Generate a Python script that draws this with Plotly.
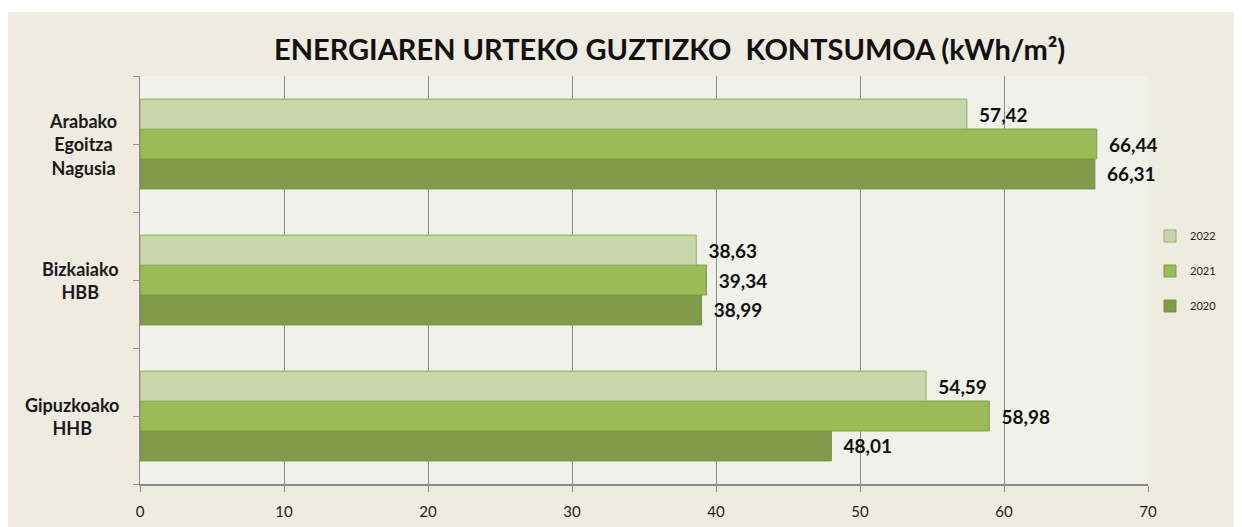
import plotly.graph_objects as go

categories = ["Gipuzkoako<br>HHB", "Bizkaiako<br>HBB", "Arabako<br>Egoitza<br>Nagusia"]
years = ["2020", "2021", "2022"]
values_2020 = [48.01, 38.99, 66.31]
values_2021 = [58.98, 39.34, 66.44]
values_2022 = [54.59, 38.63, 57.42]
x_ticks = [0, 10, 20, 30, 40, 50, 60, 70]
title_text = "ENERGIAREN URTEKO GUZTIZKO  KONTSUMOA (kWh/m²)"

series = {"2020": values_2020, "2021": values_2021, "2022": values_2022}
colors = {"2020": "#7F9A48", "2021": "#9BBB59", "2022": "#C7D6AB"}
borders = {"2020": "#75913F", "2021": "#7F9D3F", "2022": "#93AE62"}

FONT = "Lato"
fig = go.Figure()
for i, yr in enumerate(years):
    fig.add_trace(go.Bar(
        y=categories, x=series[yr], orientation="h", name=yr,
        legendgroup=yr, legendrank=len(years) - i,
        marker=dict(color=colors[yr], line=dict(color=borders[yr], width=1)),
        text=["\u00a0\u00a0" + f"{v:.2f}".replace(".", ",") for v in series[yr]],
        textposition="outside", cliponaxis=False,
        textfont=dict(family=FONT, size=19, color="#111111", weight="bold"),
    ))

fig.add_trace(go.Scatter(x=[None], y=[None], yaxis="y2", showlegend=False, hoverinfo="skip"))

# page body has an 8px margin: lay out in reference pixels minus 8
OFF = 8
W, H = 1242 - OFF, 527 - OFF
L, T = 140 - OFF, 76 - OFF
R, B = W - (1148 - OFF), H - (484 - OFF)
pw, ph = W - L - R, H - T - B


def px(xr):
    return (xr - OFF - L) / pw


def py(yr):
    return (H - B - (yr - OFF)) / ph


shapes = [
    dict(type="rect", xref="paper", yref="paper",
         x0=px(0), x1=px(1260), y0=py(540), y1=py(12),
         fillcolor="#EEEBE0", line=dict(width=0), layer="below"),
    dict(type="rect", xref="paper", yref="paper", x0=0, x1=1, y0=0, y1=1,
         fillcolor="#F0F2EA", line=dict(width=0), layer="below"),
]

annotations = [
    dict(text="<b>" + title_text + "</b>", xref="paper", yref="paper",
         x=px(669), y=py(48), xanchor="center", yanchor="middle",
         showarrow=False, font=dict(family=FONT, size=29, color="#111111")),
]
label_right = [121, 121, 119]
for cat, rx in zip(categories, label_right):
    annotations.append(dict(text="<b>" + cat + "</b>", xref="paper", yref="y",
                            x=px(rx), y=cat, xanchor="right", yanchor="middle",
                            align="center", showarrow=False,
                            font=dict(family=FONT, size=18, color="#1A1A1A")))

fig.update_layout(
    width=W, height=H,
    margin=dict(l=L, r=R, t=T, b=B, autoexpand=False),
    paper_bgcolor="white", plot_bgcolor="rgba(0,0,0,0)",
    barmode="group", bargap=0.34, bargroupgap=0,
    separators=",.",
    shapes=shapes, annotations=annotations,
    showlegend=True,
    legend=dict(x=px(1150), y=py(271), xanchor="left", yanchor="middle",
                traceorder="grouped", tracegroupgap=16, bgcolor="rgba(0,0,0,0)",
                font=dict(family=FONT, size=11, color="#222222"), itemwidth=30),
    xaxis=dict(range=[0, 70], tickvals=x_ticks, showgrid=True, gridcolor="#8C8C8C", gridwidth=1,
               zeroline=False, showline=True, linecolor="#8C8C8C", linewidth=2,
               ticks="outside", ticklen=6, tickcolor="#8C8C8C", automargin=False,
               ticklabelstandoff=7,
               tickfont=dict(family=FONT, size=15, color="#222222")),
    yaxis=dict(categoryorder="array", categoryarray=categories, showticklabels=False,
               showline=True, linecolor="#8C8C8C", linewidth=1, automargin=False,
               ticks="outside", ticklen=6, tickcolor="#8C8C8C", showgrid=False,
               range=[-0.5, 2.5]),
    yaxis2=dict(overlaying="y", side="left", range=[-0.5, 2.5], tickvals=[-0.5, 0.5, 1.5, 2.5],
                showticklabels=False, ticks="outside", ticklen=6, tickcolor="#8C8C8C",
                showgrid=False, zeroline=False, showline=False, automargin=False),
)

fig.write_html("out.html")
